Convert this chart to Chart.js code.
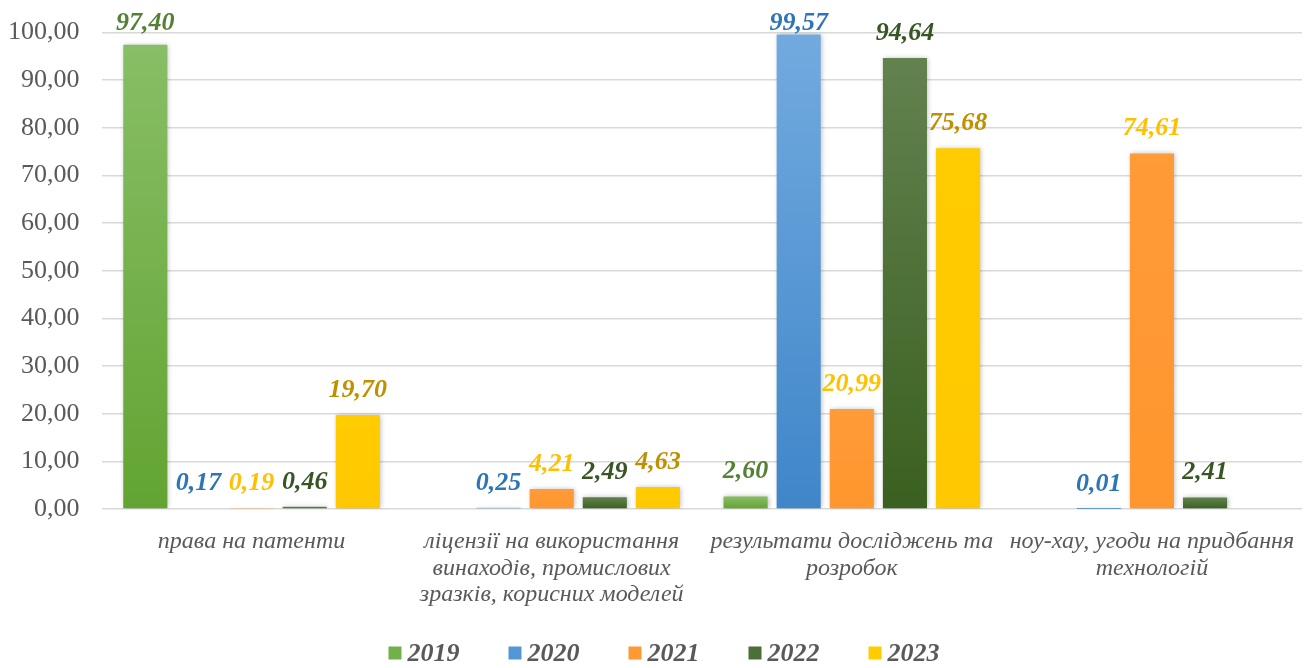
<!DOCTYPE html>
<html><head><meta charset="utf-8">
<script src="https://cdn.jsdelivr.net/npm/chart.js@4"></script>
<style>html,body{margin:0;padding:0;background:#fff;overflow:hidden}#wrap{width:1312px;height:668px;position:relative}canvas{display:block}</style>
</head><body><div id="wrap"><canvas id="c" width="1312" height="668" style="width:1312px;height:668px"></canvas></div>
<script>
const categories = [
  ['права на патенти'],
  ['ліцензії на використання','винаходів, промислових','зразків, корисних моделей'],
  ['результати досліджень та','розробок'],
  ['ноу-хау, угоди на придбання','технологій']
];
const years = ['2019','2020','2021','2022','2023'];
const v2019 = [97.40, null, 2.60, null];
const v2020 = [0.17, 0.25, 99.57, 0.01];
const v2021 = [0.19, 4.21, 20.99, 74.61];
const v2022 = [0.46, 2.49, 94.64, 2.41];
const v2023 = [19.70, 4.63, 75.68, null];
const yMin = 0, yMax = 100, yStep = 10;

const seriesValues = [v2019, v2020, v2021, v2022, v2023];
const topColors    = ['#88BE66','#72AADF','#FF9B38','#62824F','#FFCC00'];
const bottomColors = ['#62A432','#3F86C9','#FF962E','#3A6020','#FFC800'];
const legendColors = ['#72B04A','#5596D4','#FF9933','#4C6E38','#FFCC00'];
const labelColors  = ['#538135','#2E75B6','#FFC000','#375623','#BF9000'];

const FONT = '"Liberation Serif", "Times New Roman", serif';
Chart.defaults.font.family = FONT;

function fmt(v){ return v.toFixed(2).replace('.', ','); }

function gradFor(i){
  return (ctx) => {
    const chart = ctx.chart;
    if (!chart.chartArea || ctx.type !== 'data' || ctx.raw == null) return topColors[i];
    const ys = chart.scales.y;
    const y0 = ys.getPixelForValue(ctx.raw), y1 = ys.getPixelForValue(0);
    if (!(y1 - y0 > 1)) return bottomColors[i];
    const g = chart.ctx.createLinearGradient(0, y0, 0, y1);
    g.addColorStop(0, topColors[i]);
    g.addColorStop(1, bottomColors[i]);
    return g;
  };
}

const labelsPlugin = {
  id: 'barLabels',
  beforeDatasetsDraw(chart){
    const c = chart.ctx;
    c.save();
    c.shadowColor = 'rgba(0,0,0,0.28)';
    c.shadowBlur = 5;
    c.shadowOffsetX = 1;
    c.shadowOffsetY = 0;
  },
  afterDatasetsDraw(chart){
    const c = chart.ctx;
    c.restore();
    c.save();
    c.font = 'italic bold 26px ' + FONT;
    c.textAlign = 'center';
    c.textBaseline = 'middle';
    chart.data.datasets.forEach((ds, i) => {
      const meta = chart.getDatasetMeta(i);
      meta.data.forEach((el, j) => {
        const v = ds.data[j];
        if (v == null) return;
        c.fillStyle = labelColors[i];
        const y = Math.max(el.y - 25, 23);
        c.fillText(fmt(v), el.x, y);
      });
    });
    c.restore();
  },
  afterDraw(chart){
    const c = chart.ctx;
    c.save();
    c.font = 'italic bold 26px ' + FONT;
    c.textBaseline = 'middle';
    c.textAlign = 'left';
    const box = 13, gapText = 6, gapItem = 49;
    const ws = chart.data.datasets.map(ds => c.measureText(ds.label).width);
    let total = ws.reduce((a, w) => a + box + gapText + w, 0) + gapItem * (ws.length - 1);
    let x = 664 - total / 2;
    const yc = 654;
    chart.data.datasets.forEach((ds, i) => {
      c.fillStyle = legendColors[i];
      c.fillRect(x, yc - box / 2 - 1, box, box);
      c.fillStyle = '#595959';
      c.fillText(ds.label, x + box + gapText, yc);
      x += box + gapText + ws[i] + gapItem;
    });
    c.restore();
  }
};

new Chart(document.getElementById('c'), {
  type: 'bar',
  data: {
    labels: categories,
    datasets: years.map((y, i) => ({
      label: y,
      data: seriesValues[i],
      backgroundColor: gradFor(i),
      borderWidth: 0,
      categoryPercentage: 0.885,
      barPercentage: 0.83
    }))
  },
  options: {
    responsive: false,
    animation: false,
    devicePixelRatio: 1,
    layout: { padding: { top: 20, right: 10, bottom: 59, left: 0 } },
    plugins: { legend: { display: false }, tooltip: { enabled: false } },
    scales: {
      x: {
        grid: { display: false },
        border: { display: false },
        ticks: {
          color: '#595959',
          font: { size: 24, style: 'italic', lineHeight: 1.09 },
          padding: 12,
          maxRotation: 0, autoSkip: false
        },
        afterFit(s){ s.height = 100; }
      },
      y: {
        min: yMin, max: yMax,
        grid: { color: '#D9D9D9', lineWidth: 1.5, drawTicks: false },
        border: { display: false },
        ticks: {
          stepSize: yStep,
          color: '#595959',
          font: { size: 26, lineHeight: 0.8 },
          padding: 22,
          callback: (v) => fmt(v)
        },
        afterFit(s){ s.width = 101.5; }
      }
    }
  },
  plugins: [labelsPlugin]
});
</script>
</body></html>
